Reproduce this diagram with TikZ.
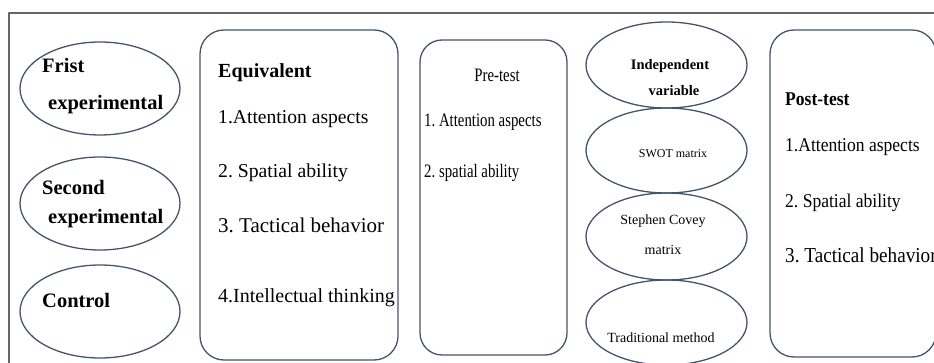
\documentclass[tikz,border=0pt]{standalone}
\usepackage{fontspec}
\setmainfont{Liberation Serif}
\newfontfamily\narrowfont[FakeStretch=0.78]{Liberation Serif}
\newfontfamily\postfont[FakeStretch=0.9]{Liberation Serif}
\usetikzlibrary{shapes.geometric}
\definecolor{shapeline}{HTML}{44546A}
\definecolor{frameline}{HTML}{666666}
\tikzset{
    grp/.style={ellipse, draw=shapeline, line width=1.3pt, inner sep=0pt},
    panel/.style={rectangle, draw=shapeline, line width=1.3pt, rounded corners=24pt, inner sep=0pt},
    txt/.style={anchor=base west, inner sep=0pt, text=black},
    big/.style={font=\fontsize{20.5}{24}\selectfont\bfseries},
    small/.style={font=\narrowfont\fontsize{19}{22}\selectfont},
    tiny/.style={font=\fontsize{14}{17}\selectfont}
}
\begin{document}
\frenchspacing
\begin{tikzpicture}[x=1pt, y=-1pt, line join=round, line cap=round]
    \useasboundingbox (0,0) rectangle (934,363);
    % outer frame
    \draw[frameline, line width=1.2pt] (9,370) -- (9,13) -- (940,13);
    % groups
    \node[grp, minimum width=160pt, minimum height=93pt] (first) at (100,88.5) {};
    \node[grp, minimum width=160pt, minimum height=93pt] (second) at (100,203.5) {};
    \node[grp, minimum width=160pt, minimum height=93pt] (control) at (100,311.5) {};
    \node[txt, big] (firstA) at (42,73) {Frist};
    \node[txt, big] (firstB) at (48,110) {experimental};
    \node[txt, big] (secondA) at (42,195) {Second};
    \node[txt, big] (secondB) at (48,224) {experimental};
    \node[txt, big] (controlA) at (42,308) {Control};
    % equivalent
    \node[panel, minimum width=198pt, minimum height=330pt] (equiv) at (299,195) {};
    \node[txt, font=\fontsize{20}{24}\selectfont\bfseries] (equivT) at (218,78) {Equivalent};
    \foreach \lbl/\yy/\sz [count=\i] in {1.Attention aspects/124/19.6, 2. Spatial ability/178/19.7, 3. Tactical behavior/233/21, 4.Intellectual thinking/302/20} {
        \node[txt, font=\fontsize{\sz}{24}\selectfont] (equiv\i) at (218,\yy) {\lbl};
    }
    % pre-test
    \node[panel, minimum width=147pt, minimum height=315pt, rounded corners=22pt] (pre) at (493.5,197.5) {};
    \node[anchor=base, inner sep=0pt, small] (preT) at (497,82) {Pre-test};
    \node[txt, small] (pre1) at (424,127) {1. Attention aspects};
    \node[txt, small] (pre2) at (424,178) {2. spatial ability};
    % independent variable
    \node[grp, minimum width=161pt, minimum height=86pt] (indep) at (666.5,65) {};
    \node[grp, minimum width=161pt, minimum height=85pt] (swot) at (666.5,150.5) {};
    \node[grp, minimum width=161pt, minimum height=87pt] (covey) at (666.5,236.5) {};
    \node[grp, minimum width=161pt, minimum height=85pt] (trad) at (666.5,322.5) {};
    \node[anchor=base, inner sep=0pt, font=\fontsize{14.5}{17}\selectfont\bfseries] (indepA) at (670,70) {Independent};
    \node[anchor=base, inner sep=0pt, font=\fontsize{14.5}{17}\selectfont\bfseries] (indepB) at (674,96) {variable};
    \node[anchor=base, inner sep=0pt, font=\fontsize{12}{14}\selectfont] (swotT) at (673,158) {SWOT matrix};
    \node[anchor=base, inner sep=0pt, tiny] (coveyA) at (663,225) {Stephen Covey};
    \node[anchor=base, inner sep=0pt, tiny] (coveyB) at (663,255) {matrix};
    \node[anchor=base, inner sep=0pt, tiny] (tradT) at (661,342) {Traditional method};
    % post-test
    \node[panel, minimum width=166pt, minimum height=327pt] (post) at (853,193.5) {};
    \node[txt, font=\postfont\fontsize{19.5}{23}\selectfont\bfseries] (postT) at (785,106) {Post-test};
    \foreach \lbl/\yy/\sz [count=\i] in {1.Attention aspects/152/19.5, 2. Spatial ability/208/19.5, 3. Tactical behavior/263/21.3} {
        \node[txt, font=\postfont\fontsize{\sz}{23}\selectfont] (post\i) at (785,\yy) {\lbl};
    }
\end{tikzpicture}
\end{document}
